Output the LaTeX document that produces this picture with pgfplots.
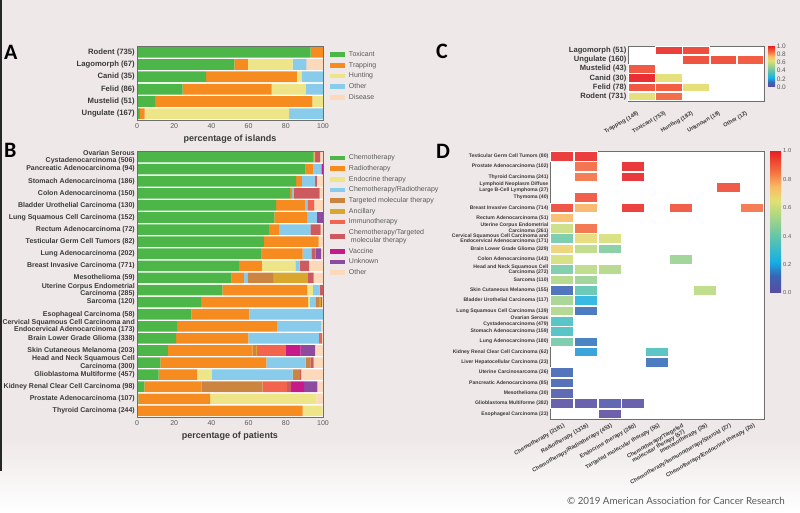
\documentclass[border=0pt]{standalone}
\usepackage{fontspec}
\setmainfont{Liberation Sans}
\newfontfamily\carlito{Carlito}
\newfontfamily\lato{Lato}
\usepackage{pgfplots}
\usepackage{pgfplotstable}
\pgfplotsset{compat=1.18}

\definecolor{bgc}{HTML}{EFE8E8}
\definecolor{labc}{HTML}{3A3A3A}
\definecolor{tickc}{HTML}{5A5A5A}
\definecolor{framec}{HTML}{6E6E6E}
\definecolor{cgreen}{HTML}{4CB648}
\definecolor{corange}{HTML}{F68B1F}
\definecolor{cyellow}{HTML}{EDE587}
\definecolor{cblue}{HTML}{89CBEA}
\definecolor{cbrown}{HTML}{CC8540}
\definecolor{cgold}{HTML}{D9A62E}
\definecolor{cimmuno}{HTML}{F2644E}
\definecolor{cchemotarg}{HTML}{CC5A5E}
\definecolor{cvacc}{HTML}{C7198A}
\definecolor{cunk}{HTML}{8C4B9F}
\definecolor{cpeach}{HTML}{FDD9BC}

\pgfplotsset{
  colormap={spec}{rgb255(0pt)=(91,74,160) rgb255(12pt)=(58,100,180) rgb255(22pt)=(20,175,230) rgb255(38pt)=(90,195,175) rgb255(55pt)=(175,215,130) rgb255(65pt)=(225,225,115) rgb255(75pt)=(250,185,100) rgb255(85pt)=(245,115,65) rgb255(100pt)=(232,30,35)},
  patchlegend/.style={legend image code/.code={\fill[##1] (0pt,-2.4pt) rectangle (15pt,2.4pt);}},
  baraxis/.style={
    scale only axis, xbar stacked, bar width=0.875, xmin=0, xmax=100, y dir=reverse,
    axis line style={framec, line width=0.9pt}, axis on top,
    major tick length=0pt,
    xtick={0,20,40,60,80,100},
    xticklabel style={font=\fontsize{7}{8}\selectfont, text=tickc, inner sep=3.5pt},
    yticklabel style={font=\fontsize{7}{7.6}\selectfont\bfseries, text=labc, align=right, inner sep=2pt},
    xlabel style={font=\fontsize{9}{10}\selectfont\bfseries, text=labc, inner sep=1pt, yshift=-1.5pt},
    /pgf/number format/assume math mode=true,
    legend cell align=left,
    legend style={draw=none, fill=none, anchor=north west, row sep=2.5pt, inner sep=0pt,
      /tikz/every odd column/.append style={column sep=3pt},
      nodes={font=\fontsize{7}{8}\selectfont, text=tickc, inner sep=0.8pt}},
    axis background/.style={fill=white},
  },
  heatax/.style={
    scale only axis, y dir=reverse, axis on top,
    axis line style={framec, line width=0.9pt},
    major tick length=0pt,
    axis background/.style={fill=white},
    colormap name=spec, point meta min=0, point meta max=1,
    /pgf/number format/assume math mode=true,
  },
  cell/.style={scatter, only marks, scatter src=explicit, mark=square*,
    scatter/use mapped color={draw=white, fill=mapped color}},
}

\pgfplotstableread{
row tox trap hunt oth dis
0 93.3 6.7 0 0 0
1 52.3 7.3 24.1 7.3 9.0
2 37.1 48.8 2.7 11.4 0
3 24.5 47.9 18.4 9.2 0
4 9.8 84.5 5.7 0 0
5 1.6 2.5 77.7 18.2 0
}\islands

\pgfplotstableread{
row chemo radio endo chemorad targ anc immuno chemotarg vacc unk other
0  95.0 0.5 0 0.3 0 0 0 2.6 0 0 1.6
1  90.7 4.1 0 4.3 0 0 0 0 0.9 0 0
2  85.5 3.2 0 7.1 0 0 0 0.9 0 0 3.3
3  82.3 1.1 0 0.9 0 0 0 13.9 0 0 1.8
4  74.8 15.4 0 1.4 0 0 3.6 0 0 0 4.8
5  73.8 17.9 0 5.2 0 0 0 0 0.5 2.6 0
6  70.9 5.5 0 16.8 0 0 0 5.5 0 0 1.3
7  68.2 29.5 0 0 0 0 0 0 0 0 2.3
8  67.0 22.1 0 4.6 0 0 0 2.3 0 3.0 1.0
9  54.8 12.3 18.0 2.3 0 0 0 5.2 0 0 7.4
10 50.9 6.6 0 1.8 13.9 18.4 0 3.4 0 0 5.0
11 45.9 45.7 2.9 3.7 0 0 0 1.8 0 0 0
12 34.3 57.7 0.9 3.0 2.0 0.9 0 0.7 0 0 0.5
13 29.3 31.1 0 39.6 0 0 0 0 0 0 0
14 21.4 53.8 0 23.9 0 0 0 0 0 0 0.9
15 21.1 38.8 0 37.9 0 0 1.6 0 0 0 0.6
16 16.6 45.5 0 0 1.8 0.7 15.2 0 8.2 7.7 4.3
17 12.5 57.0 0 21.2 2.5 0 0 1.8 0 0 5.0
18 11.6 20.7 7.9 43.5 3.8 0 0 0.7 0 0 11.8
19 3.9 30.7 0 0 32.9 0 13.2 2.1 7.1 7.1 3.0
20 0.7 38.6 57.1 0 0 0 0 0 0 0 3.6
21 0 89.1 10.5 0 0 0 0 0 0 0 0.4
}\patients

\pgfplotstableread{
x y v
1 0 0.97
2 0 0.94
2 1 0.93
3 1 0.93
4 1 0.91
0 2 0.92
0 3 1.00
1 3 0.66
0 4 0.92
1 4 0.91
2 4 0.66
0 5 0.66
1 5 0.88
}\heatC

\pgfplotstableread{
x y v
0 0 0.99
1 0 0.99
1 1 0.88
3 1 1.00
1 2 0.86
3 2 1.00
7 3 0.93
1 4 0.92
0 5 0.94
1 5 0.76
3 5 0.98
5 5 0.92
8 5 0.86
0 6 0.75
0 7 0.60
1 7 0.87
0 8 0.42
1 8 0.67
2 8 0.63
0 9 0.69
1 9 0.57
2 9 0.45
0 10 0.62
5 10 0.50
0 11 0.43
1 11 0.57
2 11 0.55
0 12 0.55
1 12 0.50
0 13 0.12
1 13 0.38
6 13 0.57
0 14 0.52
1 14 0.24
0 15 0.54
1 15 0.13
0 16 0.33
0 17 0.33
0 18 0.42
1 18 0.14
1 19 0.19
4 19 0.34
4 20 0.13
0 21 0.11
0 22 0.10
0 23 0.06
0 24 0.02
1 24 0.02
2 24 0.05
3 24 0.02
2 25 0.00
}\heatD

\begin{document}
\begin{tikzpicture}
\useasboundingbox (0pt,0pt) rectangle (800pt,513pt);
\fill[bgc] (0pt,0pt) rectangle (800pt,513pt);
\shade[top color=bgc, bottom color=white] (0pt,0pt) rectangle (800pt,75pt);
\draw[line width=2pt, black!85] (1pt,513pt) -- (1pt,42pt);

% ---------------- A ----------------
\begin{axis}[baraxis, at={(137pt,393pt)}, anchor=south west, width=186pt, height=74pt,
  ymin=-0.5, ymax=5.5, ytick={0,...,5},
  yticklabel style={font=\fontsize{7.7}{8.2}\selectfont\bfseries},
  yticklabels={Rodent (735),Lagomorph (67),Canid (35),Felid (86),Mustelid (51),Ungulate (167)},
  xlabel={percentage of islands},
  legend style={at={(1.0376,0.94)}}]
\addplot[fill=cgreen, draw=none, patchlegend] table[x=tox,y=row]{\islands};
\addlegendentry{Toxicant}
\addplot[fill=corange, draw=none, patchlegend] table[x=trap,y=row]{\islands};
\addlegendentry{Trapping}
\addplot[fill=cyellow, draw=none, patchlegend] table[x=hunt,y=row]{\islands};
\addlegendentry{Hunting}
\addplot[fill=cblue, draw=none, patchlegend] table[x=oth,y=row]{\islands};
\addlegendentry{Other}
\addplot[fill=cpeach, draw=none, patchlegend] table[x=dis,y=row]{\islands};
\addlegendentry{Disease}
\end{axis}

% ---------------- B ----------------
\begin{axis}[baraxis, at={(137pt,96pt)}, anchor=south west, width=186pt, height=266pt,
  ymin=-0.5, ymax=21.5, ytick={0,...,21},
  yticklabels={{Ovarian Serous\\Cystadenocarcinoma (506)},Pancreatic Adenocarcinoma (94),Stomach Adenocarcinoma (186),Colon Adenocarcinoma (150),Bladder Urothelial Carcinoma (130),Lung Squamous Cell Carcinoma (152),Rectum Adenocarcinoma (72),Testicular Germ Cell Tumors (82),Lung Adenocarcinoma (202),Breast Invasive Carcinoma (771),Mesothelioma (59),{Uterine Corpus Endometrial\\Carcinoma (285)},Sarcoma (120),Esophageal Carcinoma (58),{Cervical Squamous Cell Carcinoma and\\Endocervical Adenocarcinoma (173)},Brain Lower Grade Glioma (338),Skin Cutaneous Melanoma (203),{Head and Neck Squamous Cell\\Carcinoma (300)},Glioblastoma Multiforme (457),Kidney Renal Clear Cell Carcinoma (98),Prostate Adenocarcinoma (107),Thyroid Carcinoma (244)},
  xlabel={percentage of patients},
  legend style={at={(1.0376,0.99)}}]
\addplot[fill=cgreen, draw=none, patchlegend] table[x=chemo,y=row]{\patients};
\addlegendentry{Chemotherapy}
\addplot[fill=corange, draw=none, patchlegend] table[x=radio,y=row]{\patients};
\addlegendentry{Radiotherapy}
\addplot[fill=cyellow, draw=none, patchlegend] table[x=endo,y=row]{\patients};
\addlegendentry{Endocrine therapy}
\addplot[fill=cblue, draw=none, patchlegend] table[x=chemorad,y=row]{\patients};
\addlegendentry{Chemotherapy/Radiotherapy}
\addplot[fill=cbrown, draw=none, patchlegend] table[x=targ,y=row]{\patients};
\addlegendentry{Targeted molecular therapy}
\addplot[fill=cgold, draw=none, patchlegend] table[x=anc,y=row]{\patients};
\addlegendentry{Ancillary}
\addplot[fill=cimmuno, draw=none, patchlegend] table[x=immuno,y=row]{\patients};
\addlegendentry{Immunotherapy}
\addplot[fill=cchemotarg, draw=none, patchlegend] table[x=chemotarg,y=row]{\patients};
\addlegendentry[align=left]{Chemotherapy/Targeted\\\ molecular therapy}
\addplot[fill=cvacc, draw=none, patchlegend] table[x=vacc,y=row]{\patients};
\addlegendentry{Vaccine}
\addplot[fill=cunk, draw=none, patchlegend] table[x=unk,y=row]{\patients};
\addlegendentry{Unknown}
\addplot[fill=cpeach, draw=none, patchlegend] table[x=other,y=row]{\patients};
\addlegendentry{Other}
\end{axis}

% ---------------- C ----------------
\begin{axis}[heatax, at={(628pt,412pt)}, anchor=south west, width=136pt, height=55pt,
  xmin=-0.5, xmax=4.5, ymin=-0.5, ymax=5.5,
  xtick={0,...,4}, xticklabels={Trapping (148),Toxicant (753),Hunting (182),Unknown (18),Other (12)},
  ytick={0,...,5}, yticklabels={Lagomorph (51),Ungulate (160),Mustelid (43),Canid (30),Felid (78),Rodent (731)},
  xticklabel style={rotate=30, anchor=north east, font=\fontsize{5.6}{6}\selectfont\bfseries, text=labc, inner sep=1pt, xshift=-8pt, yshift=-5pt},
  yticklabel style={font=\fontsize{7.6}{8}\selectfont\bfseries, text=labc, inner sep=1.5pt},
  colorbar,
  colorbar style={scale only axis, at={(1.03,1)}, anchor=north west, width=7pt, height=41pt,
    ytick={0,0.2,0.4,0.6,0.8,1}, yticklabels={0.0,0.2,0.4,0.6,0.8,1.0},
    yticklabel style={font=\fontsize{6.5}{7}\selectfont, text=tickc, inner sep=1.5pt},
    major tick length=0pt, axis line style={draw=none}}]
\addplot[cell, mark size=4.25pt, mark options={xscale=3.12, line width=0.7pt, fill opacity=0.92}] table[x=x,y=y,meta=v]{\heatC};
\end{axis}

% ---------------- D ----------------
\begin{axis}[heatax, at={(550pt,94pt)}, anchor=south west, width=214pt, height=268pt,
  xmin=-0.5, xmax=8.5, ymin=-0.5, ymax=25.5,
  xtick={0,...,8},
  xticklabels={Chemotherapy (2181),Radiotherapy (1319),Chemotherapy/Radiotherapy (453),Endocrine therapy (280),Targeted molecular therapy (55),{Chemotherapy/Targeted\\molecular therapy (57)},Immunotherapy (29),Chemotherapy/Immunotherapy/Steroid (27),Chemotherapy/Endocrine therapy (20)},
  ytick={0,...,25},
  yticklabels={Testicular Germ Cell Tumors (80),Prostate Adenocarcinoma (102),Thyroid Carcinoma (241),{Lymphoid Neoplasm Diffuse\\Large B-Cell Lymphoma (27)},Thymoma (40),Breast Invasive Carcinoma (714),Rectum Adenocarcinoma (51),{Uterine Corpus Endometrial\\Carcinoma (261)},{Cervical Squamous Cell Carcinoma and\\Endocervical Adenocarcinoma (171)},Brain Lower Grade Glioma (329),Colon Adenocarcinoma (143),{Head and Neck Squamous Cell\\Carcinoma (272)},Sarcoma (110),Skin Cutaneous Melanoma (155),Bladder Urothelial Carcinoma (117),Lung Squamous Cell Carcinoma (139),{Ovarian Serous\\Cystadenocarcinoma (479)},Stomach Adenocarcinoma (159),Lung Adenocarcinoma (180),Kidney Renal Clear Cell Carcinoma (62),Liver Hepatocellular Carcinoma (23),Uterine Carcinosarcoma (26),Pancreatic Adenocarcinoma (85),Mesothelioma (30),Glioblastoma Multiforme (382),Esophageal Carcinoma (23)},
  xticklabel style={rotate=30, anchor=north east, align=center, font=\fontsize{5.6}{6}\selectfont\bfseries, text=labc, inner sep=1pt, yshift=-3pt},
  yticklabel style={align=right, font=\fontsize{5.1}{5.5}\selectfont\bfseries, text=labc, inner sep=1.5pt},
  colorbar,
  colorbar style={scale only axis, at={(1.028,1)}, anchor=north west, width=11pt, height=142pt,
    ytick={0,0.2,0.4,0.6,0.8,1}, yticklabels={0.0,0.2,0.4,0.6,0.8,1.0},
    yticklabel style={font=\fontsize{5.8}{6.5}\selectfont, text=tickc, inner sep=2pt},
    major tick length=0pt, axis line style={draw=none}}]
\addplot[cell, mark size=4.8pt, mark options={xscale=2.404, line width=0.7pt, fill opacity=0.88}] table[x=x,y=y,meta=v]{\heatD};
\end{axis}

% panel letters and credit
\node[anchor=base west, inner sep=0pt, font=\carlito\bfseries\fontsize{22}{24}\selectfont] at (4pt,453pt) {A};
\node[anchor=base west, inner sep=0pt, font=\carlito\bfseries\fontsize{22}{24}\selectfont] at (4pt,355pt) {B};
\node[anchor=base west, inner sep=0pt, font=\carlito\bfseries\fontsize{22}{24}\selectfont] at (436pt,454pt) {C};
\node[anchor=base west, inner sep=0pt, font=\carlito\bfseries\fontsize{22}{24}\selectfont] at (436pt,354pt) {D};
\node[anchor=base east, inner sep=0pt, text=tickc, font=\lato\fontsize{9.8}{11}\selectfont] at (785pt,8pt) {© 2019 American Association for Cancer Research};
\end{tikzpicture}
\end{document}
